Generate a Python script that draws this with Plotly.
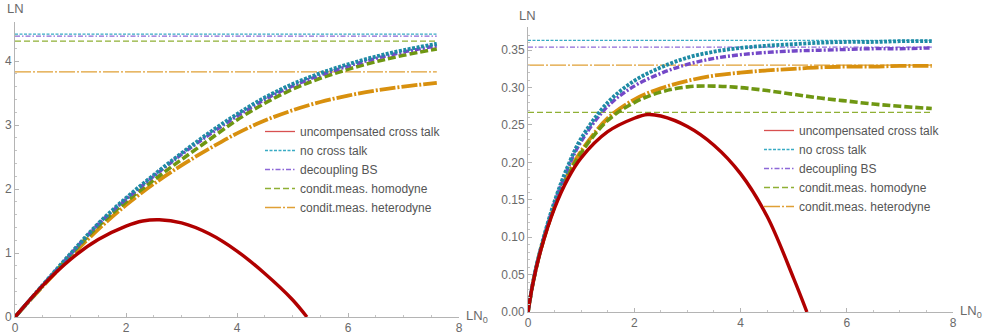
import plotly.graph_objects as go

# ---------------- data: left panel ----------------
L_x = [0, 0.5, 1, 1.5, 2, 2.5, 3, 3.5, 4, 4.5, 5, 5.5, 6, 6.5, 7, 7.6]
L_nocross = [0, 0.50, 0.99, 1.46, 1.86, 2.22, 2.56, 2.88, 3.17, 3.43, 3.64, 3.81, 3.95, 4.07, 4.17, 4.27]
L_decoup = [0, 0.50, 0.98, 1.45, 1.84, 2.20, 2.54, 2.85, 3.14, 3.40, 3.61, 3.78, 3.92, 4.04, 4.14, 4.24]
L_homo = [0, 0.49, 0.97, 1.42, 1.80, 2.14, 2.46, 2.77, 3.08, 3.34, 3.56, 3.73, 3.87, 3.99, 4.09, 4.19]
L_hetero = [0, 0.48, 0.94, 1.37, 1.75, 2.08, 2.37, 2.63, 2.87, 3.07, 3.23, 3.36, 3.46, 3.54, 3.60, 3.66]
L_red_x = [0, 0.5, 1, 1.5, 2, 2.3, 2.6, 3, 3.5, 4, 4.5, 5, 5.26]
L_red = [0, 0.49, 0.90, 1.21, 1.42, 1.50, 1.52, 1.47, 1.30, 1.03, 0.68, 0.27, 0.0]
L_asym = {"nocross": 4.42, "decoup": 4.39, "homo": 4.31, "hetero": 3.83}

# ---------------- data: right panel ----------------
R_x = [0, 0.1, 0.25, 0.5, 0.75, 1, 1.5, 2, 2.5, 3, 3.5, 4, 4.5, 5, 5.5, 6, 6.5, 7, 7.6]
R_nocross = [0, 0.042, 0.088, 0.148, 0.195, 0.232, 0.280, 0.309, 0.327, 0.340, 0.348, 0.353, 0.356, 0.358, 0.360, 0.361, 0.361, 0.362, 0.362]
R_decoup = [0, 0.042, 0.087, 0.146, 0.192, 0.228, 0.275, 0.302, 0.319, 0.331, 0.339, 0.344, 0.347, 0.349, 0.350, 0.351, 0.352, 0.352, 0.353]
R_hetero = [0, 0.041, 0.086, 0.142, 0.184, 0.215, 0.259, 0.284, 0.299, 0.309, 0.316, 0.320, 0.323, 0.325, 0.327, 0.328, 0.328, 0.329, 0.329]
R_homo = [0, 0.041, 0.086, 0.141, 0.182, 0.213, 0.256, 0.280, 0.294, 0.301, 0.302, 0.300, 0.296, 0.291, 0.286, 0.282, 0.278, 0.275, 0.272]
R_red_x = [0, 0.1, 0.25, 0.5, 0.75, 1, 1.5, 2, 2.25, 2.5, 3, 3.5, 4, 4.5, 5, 5.25]
R_red = [0, 0.041, 0.085, 0.139, 0.178, 0.206, 0.241, 0.259, 0.264, 0.262, 0.248, 0.223, 0.185, 0.128, 0.045, 0.0]
R_asym = {"nocross": 0.363, "decoup": 0.354, "homo": 0.267, "hetero": 0.330}

H_x = [0, 7.6]
x_ticks = [0, 2, 4, 6, 8]
L_yticks = [0, 1, 2, 3, 4]
R_yticks = [0, 0.05, 0.10, 0.15, 0.20, 0.25, 0.30, 0.35]
R_yticklabels = ["0.00", "0.05", "0.10", "0.15", "0.20", "0.25", "0.30", "0.35"]

names = {
    "red": "uncompensated cross talk",
    "nocross": "no cross talk",
    "decoup": "decoupling BS",
    "homo": "condit.meas. homodyne",
    "hetero": "condit.meas. heterodyne",
}
curve_style = {
    "red": dict(color="#b00000", width=3.4, dash="solid"),
    "nocross": dict(color="#1e8ba5", width=3.8, dash="3px,1.5px"),
    "decoup": dict(color="#7448c8", width=3.4, dash="6px,2px,2px,2px"),
    "homo": dict(color="#6f9712", width=3.6, dash="8px,3px"),
    "hetero": dict(color="#d8900e", width=3.8, dash="16px,2px,2px,2px"),
}
thin_style = {
    "red": dict(color="#d85050", width=1.3, dash="solid"),
    "nocross": dict(color="#39abc4", width=1.3, dash="3px,1.5px"),
    "decoup": dict(color="#8d68d8", width=1.3, dash="5px,2px,1.5px,2px"),
    "homo": dict(color="#8fb034", width=1.3, dash="6px,3px"),
    "hetero": dict(color="#e0a035", width=1.3, dash="16px,2px,2px,2px"),
}

fig = go.Figure()


def add_panel(xa, ya, leg, xs, curves, red_x, red_y, asym):
    # legend entries + asymptote lines (thin)
    fig.add_trace(go.Scatter(x=[None], y=[None], mode="lines", name=names["red"],
                             line=thin_style["red"], xaxis=xa, yaxis=ya, legend=leg,
                             hoverinfo="skip"))
    for key in ["nocross", "decoup", "homo", "hetero"]:
        fig.add_trace(go.Scatter(x=H_x, y=[asym[key]] * len(H_x), mode="lines",
                                 name=names[key], line=thin_style[key],
                                 xaxis=xa, yaxis=ya, legend=leg, hoverinfo="skip"))
    # thick curves
    for key in ["hetero", "homo", "decoup", "nocross"]:
        fig.add_trace(go.Scatter(x=xs, y=curves[key], mode="lines", showlegend=False,
                                 line=dict(**curve_style[key], shape="spline"),
                                 xaxis=xa, yaxis=ya))
    fig.add_trace(go.Scatter(x=red_x, y=red_y, mode="lines", showlegend=False,
                             line=dict(**curve_style["red"], shape="spline"),
                             xaxis=xa, yaxis=ya))


add_panel("x", "y", "legend", L_x,
          {"nocross": L_nocross, "decoup": L_decoup, "homo": L_homo, "hetero": L_hetero},
          L_red_x, L_red, L_asym)
add_panel("x2", "y2", "legend2", R_x,
          {"nocross": R_nocross, "decoup": R_decoup, "homo": R_homo, "hetero": R_hetero},
          R_red_x, R_red, R_asym)

W, H = 984, 335
axis_common = dict(showline=True, linecolor="#b4b4b4", linewidth=1, showgrid=False,
                   zeroline=False, ticks="inside", ticklen=4, tickcolor="#b4b4b4",
                   tickfont=dict(family="Liberation Sans, Arial, sans-serif", size=12, color="#6a6a6a"),
                   automargin=False, fixedrange=True)

fig.update_layout(
    width=W, height=H,
    margin=dict(l=0, r=0, t=0, b=0),
    paper_bgcolor="white", plot_bgcolor="white",
    font=dict(family="Liberation Sans, Arial, sans-serif", color="#555555"),
    xaxis=dict(**axis_common, domain=[15 / W, 459 / W], range=[0, 8], tickvals=x_ticks,
               anchor="y", minor=dict(dtick=0.5, ticks="inside", ticklen=2, tickcolor="#c4c4c4")),
    yaxis=dict(**axis_common, domain=[1 - 317 / H, 1 - 22 / H], range=[0, 4.61], tickvals=L_yticks,
               anchor="x", minor=dict(dtick=0.2, ticks="inside", ticklen=2, tickcolor="#c4c4c4")),
    xaxis2=dict(**axis_common, domain=[528 / W, 953 / W], range=[0, 8], tickvals=x_ticks,
                anchor="y2", minor=dict(dtick=0.5, ticks="inside", ticklen=2, tickcolor="#c4c4c4")),
    yaxis2=dict(**axis_common, domain=[1 - 312 / H, 1 - 27 / H], range=[0, 0.381],
                tickvals=R_yticks, ticktext=R_yticklabels,
                anchor="x2", minor=dict(dtick=0.01, ticks="inside", ticklen=2, tickcolor="#c4c4c4")),
    legend=dict(x=260 / W, y=1 - 117 / H, xanchor="left", yanchor="top",
                bgcolor="rgba(0,0,0,0)", font=dict(size=12, color="#555555"),
                tracegroupgap=0),
    legend2=dict(x=759 / W, y=1 - 116 / H, xanchor="left", yanchor="top",
                 bgcolor="rgba(0,0,0,0)", font=dict(size=12, color="#555555"),
                 tracegroupgap=0),
    showlegend=True,
)

lab_font = dict(family="Liberation Sans, Arial, sans-serif", size=13, color="#6a6a6a")
fig.add_annotation(text="LN", xref="paper", yref="paper", x=15 / W, y=1 - 9 / H,
                   showarrow=False, font=lab_font, xanchor="center", yanchor="middle")
fig.add_annotation(text="LN<sub>0</sub>", xref="paper", yref="paper", x=464 / W, y=1 - 316 / H,
                   showarrow=False, font=lab_font, xanchor="left", yanchor="middle")
fig.add_annotation(text="LN", xref="paper", yref="paper", x=527 / W, y=1 - 15 / H,
                   showarrow=False, font=lab_font, xanchor="center", yanchor="middle")
fig.add_annotation(text="LN<sub>0</sub>", xref="paper", yref="paper", x=958 / W, y=1 - 311 / H,
                   showarrow=False, font=lab_font, xanchor="left", yanchor="middle")

fig.write_html("out.html")
